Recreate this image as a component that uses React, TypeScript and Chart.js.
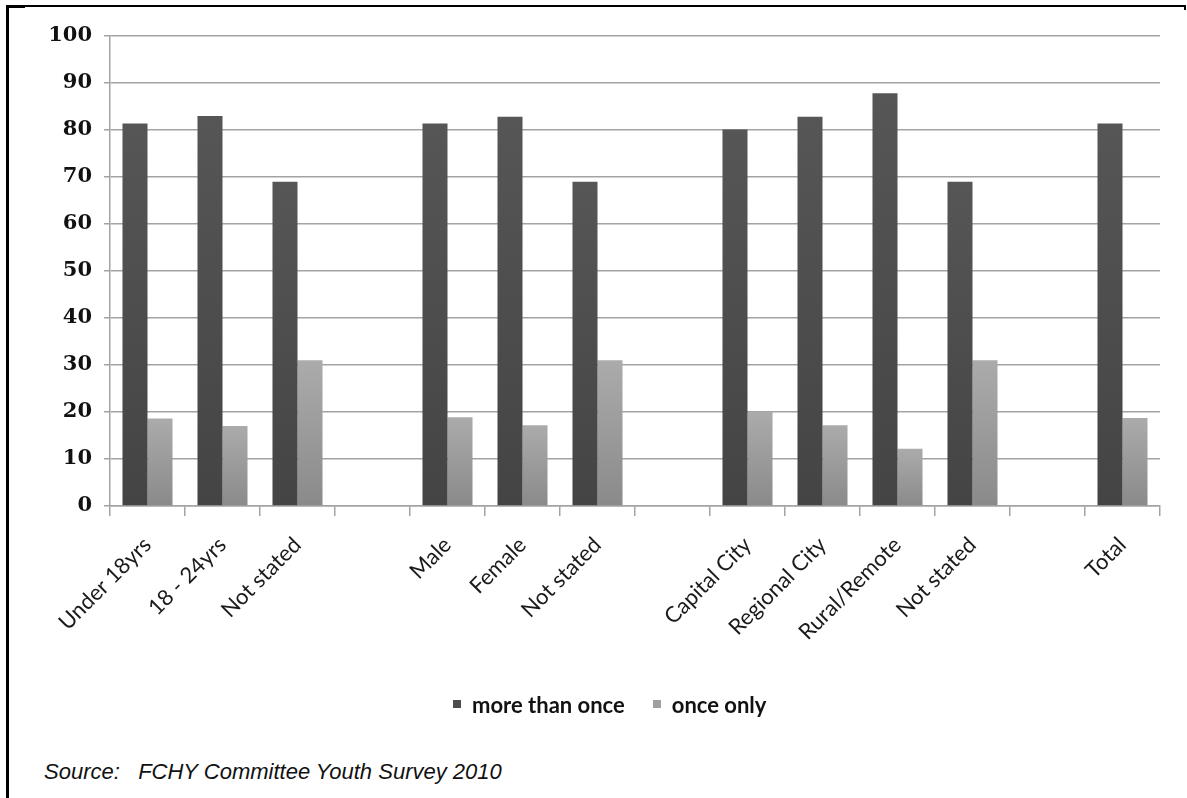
import React, { useEffect, useRef } from "react";
import { Chart, registerables } from "chart.js";

Chart.register(...registerables);

const categories = [
  "Under 18yrs", "18 - 24yrs", "Not stated", "",
  "Male", "Female", "Not stated", "",
  "Capital City", "Regional City", "Rural/Remote", "Not stated", "",
  "Total",
];
const moreThanOnce = [81.4, 83, 69, null, 81.4, 82.8, 69, null, 80.1, 82.8, 87.8, 69, null, 81.4];
const onceOnly = [18.6, 17, 31, null, 18.9, 17.2, 31, null, 20, 17.2, 12.2, 31, null, 18.7];
const seriesNames = ["more than once", "once only"];
const seriesColors = ["#4d4d4d", "#a0a0a0"];
const yTicks = { min: 0, max: 100, step: 10 };

const W = 1187;
const H = 798;
const CANVAS_H = 720;

function barGradient(top: string, bottom: string, solid: string) {
  return (ctx: any) => {
    if (ctx.type !== "data") return solid;
    const chart = ctx.chart;
    const ys = chart.scales && chart.scales.y;
    const v = ctx.raw;
    if (!ys || v == null) return solid;
    const y0 = ys.getPixelForValue(v);
    const y1 = ys.getPixelForValue(0);
    if (!isFinite(y0) || !isFinite(y1) || y1 - y0 < 1) return solid;
    const g = chart.ctx.createLinearGradient(0, y0, 0, y1);
    g.addColorStop(0, top);
    g.addColorStop(1, bottom);
    return g;
  };
}

export default function App() {
  const ref = useRef<HTMLCanvasElement>(null);
  useEffect(() => {
    if (!ref.current) return;
    const grid = "#a3a3a3";
    const chart = new Chart(ref.current, {
      type: "bar",
      data: {
        labels: categories,
        datasets: [
          {
            label: seriesNames[0],
            data: moreThanOnce,
            backgroundColor: barGradient("#565656", "#444444", seriesColors[0]),
            borderWidth: 0,
            categoryPercentage: 0.667,
            barPercentage: 1,
          },
          {
            label: seriesNames[1],
            data: onceOnly,
            backgroundColor: barGradient("#ababab", "#8a8a8a", seriesColors[1]),
            borderWidth: 0,
            categoryPercentage: 0.667,
            barPercentage: 1,
          },
        ],
      },
      options: {
        responsive: false,
        animation: false,
        devicePixelRatio: 1,
        layout: { padding: { top: 36, left: 0, right: 27, bottom: 0 } },
        plugins: {
          tooltip: { enabled: false },
          legend: { display: false },
        },
        scales: {
          x: {
            offset: true,
            grid: { drawOnChartArea: false, drawTicks: true, tickLength: 10, color: grid, lineWidth: 1.5, offset: true },
            border: { display: true, color: grid, width: 1.5 },
            ticks: {
              autoSkip: false,
              maxRotation: 45,
              minRotation: 45,
              padding: 16,
              color: "#1a1a1a",
              font: { family: "Lato, 'Open Sans', sans-serif", size: 22 },
            },
            afterFit: (s: any) => { s.height = CANVAS_H - 506; },
          },
          y: {
            min: yTicks.min,
            max: yTicks.max,
            grid: { color: grid, lineWidth: 1.5, drawTicks: true, tickLength: 6 },
            border: { display: true, color: grid, width: 1.5 },
            ticks: {
              stepSize: yTicks.step,
              padding: 12,
              color: "#111",
              font: { family: "'DejaVu Serif', serif", size: 21, weight: "bold" },
            },
            afterFit: (s: any) => { s.width = 110; },
          },
        },
      },
    } as any);
    return () => chart.destroy();
  }, []);

  const legendFont = { fontFamily: "Lato, 'Open Sans', sans-serif", fontWeight: 700, fontSize: 22, color: "#111" };

  return (
    <div style={{ position: "fixed", left: 0, top: 0, width: W, height: H, background: "#fff", overflow: "hidden" }}>
      <canvas ref={ref} width={W} height={CANVAS_H} style={{ position: "absolute", left: 0, top: 0, width: W, height: CANVAS_H }} />
      <div style={{ position: "absolute", left: 453, top: 689, display: "flex", alignItems: "center", height: 30, whiteSpace: "nowrap" }}>
        {seriesNames.map((n, i) => (
          <div key={n} style={{ display: "flex", alignItems: "center", marginRight: 28 }}>
            <div style={{ width: 8, height: 8, background: seriesColors[i], marginRight: 11 }} />
            <span style={legendFont}>{n}</span>
          </div>
        ))}
      </div>
      <div style={{ position: "absolute", left: 6, top: 5, width: 1180, height: 2, background: "#000" }} />
      <div style={{ position: "absolute", left: 7, top: 5, width: 18, height: 3, background: "#000" }} />
      <div style={{ position: "absolute", left: 1184, top: 5, width: 2, height: 5, background: "#000" }} />
      <div style={{ position: "absolute", left: 6, top: 5, width: 3, height: H - 5, background: "#000" }} />
      <div
        style={{
          position: "absolute",
          left: 44,
          top: 759,
          fontFamily: "'Liberation Sans', Arial, sans-serif",
          fontStyle: "italic",
          fontSize: 22,
          whiteSpace: "pre",
          color: "#111",
        }}
      >
        {"Source:   FCHY Committee Youth Survey 2010"}
      </div>
    </div>
  );
}
